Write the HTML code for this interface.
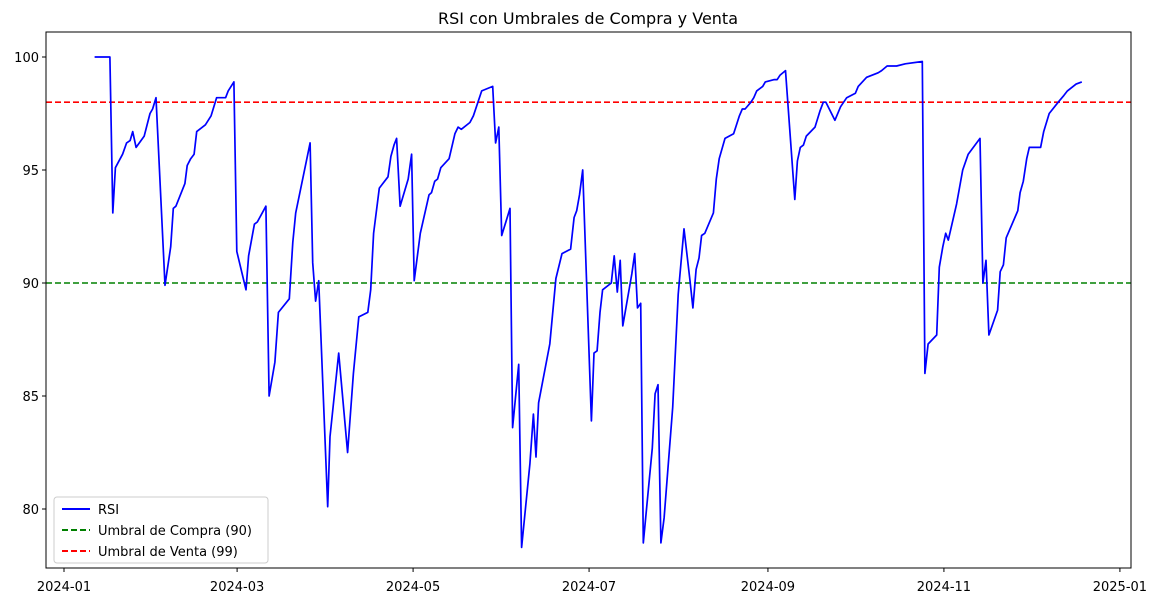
<!DOCTYPE html>
<html><head><meta charset="utf-8"><style>
body{margin:0;background:#fff;font-family:"Liberation Sans","DejaVu Sans",sans-serif}
svg text{font-family:"DejaVu Sans","Liberation Sans",sans-serif}
</style></head><body>
<svg id="chart" width="1164" height="605" xmlns="http://www.w3.org/2000/svg">
<rect width="1164" height="605" fill="#fff"/>
<text x="588" y="24" font-size="16" text-anchor="middle">RSI con Umbrales de Compra y Venta</text>
<g id="ticks"></g>
<g id="plot"></g>
<rect x="46" y="32" width="1085" height="536" fill="none" stroke="#000" stroke-width="1"/>
<g>
<rect x="54" y="497" width="214" height="66" fill="#fff" fill-opacity="0.8" stroke="#ccc" rx="3"/>
<g><line x1="62" y1="509" x2="90" y2="509" stroke="#0000ff" stroke-width="2"/><text x="98" y="514" font-size="13">RSI</text></g>
<g><line x1="62" y1="530" x2="90" y2="530" stroke="green" stroke-width="2" stroke-dasharray="6,3"/><text x="98" y="535" font-size="13">Umbral de Compra (90)</text></g>
<g><line x1="62" y1="551" x2="90" y2="551" stroke="red" stroke-width="2" stroke-dasharray="6,3"/><text x="98" y="556" font-size="13">Umbral de Venta (99)</text></g>
</g>
</svg>
<script>
const days=[10.6,15.9,16.9,17.8,20.3,21.7,22.9,23.8,25.0,27.8,29.8,30.7,31.9,35.0,37.0,37.9,38.8,41.9,42.7,43.9,45.1,46.0,49.0,51.0,52.9,56.0,56.9,58.9,59.9,63.1,64.0,66.0,67.0,70.0,71.1,73.1,74.3,78.1,79.3,80.3,85.3,86.2,87.2,88.3,91.4,92.2,95.2,98.3,100.3,102.2,105.3,106.3,107.3,109.3,112.3,113.3,114.4,115.3,116.5,119.3,120.5,121.4,123.5,126.5,127.4,128.5,129.5,130.6,133.5,135.5,136.6,137.7,140.7,141.9,144.8,148.6,149.6,150.7,151.7,154.6,155.5,157.6,158.6,161.5,162.7,163.6,164.5,168.4,170.5,172.6,175.6,176.8,177.7,178.7,179.8,182.8,183.7,184.8,185.8,186.7,189.7,190.7,191.8,192.8,193.7,196.8,197.8,198.8,199.9,200.8,203.9,204.9,205.9,206.9,208.0,211.0,212.9,214.9,217.0,218.0,219.1,220.1,221.0,222.1,225.1,226.1,227.1,229.1,232.1,234.1,235.1,236.1,238.1,239.1,240.1,242.2,243.1,246.2,247.2,248.2,250.1,253.3,254.2,255.2,256.3,257.3,260.3,262.0,263.2,264.1,267.2,269.2,271.3,274.3,275.3,278.2,282.2,283.4,285.3,288.6,291.6,297.5,298.4,299.5,302.5,303.4,304.6,305.6,306.5,309.4,311.5,313.4,317.5,318.5,319.6,320.6,323.6,324.5,325.6,326.6,330.6,331.4,332.5,333.7,334.6,338.5,339.6,341.5,344.6,346.6,347.8,350.8,352.8];
const rsi=[100.0,100.0,93.1,95.1,95.7,96.2,96.3,96.7,96.0,96.5,97.5,97.7,98.2,89.9,91.6,93.3,93.4,94.4,95.2,95.5,95.7,96.7,97.0,97.4,98.2,98.2,98.5,98.9,91.4,89.7,91.2,92.6,92.7,93.4,85.0,86.5,88.7,89.3,91.8,93.1,96.2,90.9,89.2,90.1,80.1,83.2,86.9,82.5,86.0,88.5,88.7,89.7,92.2,94.2,94.7,95.6,96.1,96.4,93.4,94.6,95.7,90.1,92.2,93.9,94.0,94.5,94.6,95.1,95.5,96.6,96.9,96.8,97.1,97.4,98.5,98.7,96.2,96.9,92.1,93.3,83.6,86.4,78.3,82.0,84.2,82.3,84.7,87.3,90.2,91.3,91.5,92.9,93.2,93.9,95.0,83.9,86.9,87.0,88.7,89.7,90.0,91.2,89.6,91.0,88.1,90.4,91.3,88.9,89.1,78.5,82.7,85.1,85.5,78.5,79.6,84.5,89.5,92.4,90.1,88.9,90.6,91.1,92.1,92.2,93.1,94.6,95.5,96.4,96.6,97.4,97.7,97.7,98.0,98.2,98.5,98.7,98.9,99.0,99.0,99.2,99.4,93.7,95.4,96.0,96.1,96.5,96.9,97.6,98.0,98.0,97.2,97.8,98.2,98.4,98.7,99.1,99.3,99.4,99.6,99.6,99.7,99.8,86.0,87.3,87.7,90.7,91.6,92.2,91.9,93.5,95.0,95.7,96.4,90.0,91.0,87.7,88.8,90.5,90.8,92.0,93.2,94.0,94.5,95.5,96.0,96.0,96.7,97.5,98.0,98.3,98.5,98.8,98.9];
const yTicks=[80,85,90,95,100];
const xTickDays=[0,60,121,182,244,305,366];
const xTickLabels=["2024-01","2024-03","2024-05","2024-07","2024-09","2024-11","2025-01"];
const buyThreshold=90, sellThreshold=98;

const NS="http://www.w3.org/2000/svg";
const X=d=>64+d*2.885;
const Y=v=>57+(100-v)*22.6;
function mk(tag,attrs,parent){const e=document.createElementNS(NS,tag);for(const k in attrs)e.setAttribute(k,attrs[k]);parent.appendChild(e);return e;}
const ticks=document.getElementById('ticks'), plot=document.getElementById('plot');
yTicks.forEach(v=>{
  const l=mk('line',{x1:42,x2:46,y1:Y(v),y2:Y(v),stroke:'#000'},ticks);
  
  
  const t=mk('text',{x:39,y:Y(v)+5,'font-size':13,'text-anchor':'end'},ticks);
  
  
  t.textContent=v;
});
xTickDays.forEach((d,i)=>{
  const l=mk('line',{x1:X(d),x2:X(d),y1:568,y2:572,stroke:'#000'},ticks);
  
  
  const t=mk('text',{x:X(d),y:591,'font-size':13,'text-anchor':'middle'},ticks);
  
  
  t.textContent=xTickLabels[i];
});
const buy=mk('line',{x1:46,x2:1131,y1:Y(buyThreshold),y2:Y(buyThreshold),stroke:'green','stroke-width':1.6,'stroke-dasharray':'6,3'},plot);


const sell=mk('line',{x1:46,x2:1131,y1:Y(sellThreshold),y2:Y(sellThreshold),stroke:'red','stroke-width':1.6,'stroke-dasharray':'6,3'},plot);


const pts=days.map((d,i)=>X(d).toFixed(1)+','+Y(rsi[i]).toFixed(1)).join(' ');
const line=mk('polyline',{points:pts,fill:'none',stroke:'#0000ff','stroke-width':1.7,'stroke-linejoin':'round'},plot);


</script>
</body></html>
